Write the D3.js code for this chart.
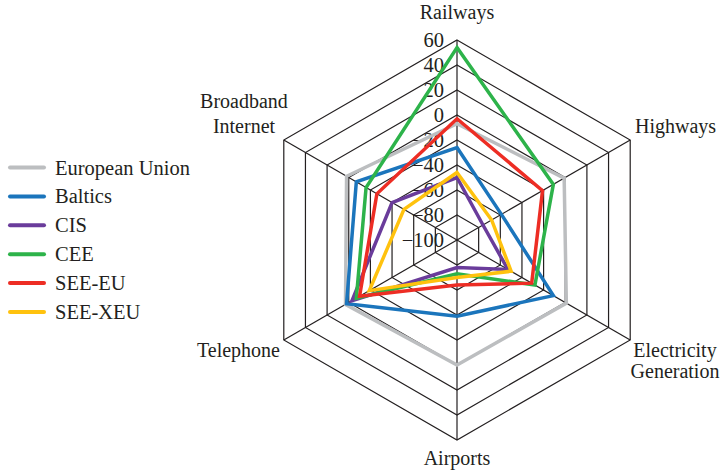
<!DOCTYPE html>
<html>
<head>
<meta charset="utf-8">
<script src="https://cdn.jsdelivr.net/npm/d3@7"></script>
<style>
  body { margin: 0; background: #fff; }
</style>
</head>
<body>
<div id="chart"></div>
<script>
// axes, clockwise from the top
var axes = ["Railways", "Highways", "Electricity Generation", "Airports", "Telephone", "Broadband Internet"];
var ticks = [-100, -80, -60, -40, -20, 0, 20, 40, 60];

var seriesNames = ["European Union", "Baltics", "CIS", "CEE", "SEE-EU", "SEE-XEU"];
var euValues      = [-7, -1, 1, 0, 3, 2];
var balticsValues = [-26, -59, -11, -39, 2, -7];
var cisValues     = [-50, -76, -53, -78, -3, -40];
var ceeValues     = [54, -11, -28, -73, -7, -16];
var seeEuValues   = [-3, -21, -31, -64, -10, -26];
var seeXeuValues  = [-46, -68, -50, -70, -19, -51];

var colors = ["#bcbec0", "#1b75bc", "#6a3c9b", "#2db34a", "#ed2d24", "#ffc20e"];

var series = [euValues, balticsValues, cisValues, ceeValues, seeEuValues, seeXeuValues];

var width = 722, height = 473;
var cx = 457, cy = 240, radius = 200;

var svg = d3.select("#chart").append("svg")
  .attr("width", width)
  .attr("height", height);

var r = d3.scaleLinear().domain([-100, 60]).range([0, radius]);

function pt(i, v) {
  var a = i * Math.PI / 3;
  return [cx + r(v) * Math.sin(a), cy - r(v) * Math.cos(a)];
}

function serifText(sel, size) {
  return sel.attr("style", "font-family: 'Times New Roman', 'Liberation Serif'; font-size: " + size + "px;")
    .attr("fill", "#231f20");
}

// grid rings
var grid = svg.append("g");
ticks.slice(1).forEach(function(t) {
  grid.append("polygon")
    .attr("points", axes.map(function(d, i) { return pt(i, t).join(","); }).join(" "))
    .attr("fill", "none")
    .attr("stroke", "#231f20")
    .attr("stroke-width", 1.2);
});
// spokes
axes.forEach(function(d, i) {
  var p = pt(i, 60);
  grid.append("line")
    .attr("x1", cx).attr("y1", cy)
    .attr("x2", p[0]).attr("y2", p[1])
    .attr("stroke", "#231f20")
    .attr("stroke-width", 1.2);
});

// tick labels along the top spoke
svg.append("g").selectAll("text")
  .data(ticks)
  .enter().append("text")
  .call(serifText, 20.5)
  .attr("x", cx - 13)
  .attr("y", function(d) { return cy - r(d) + 7; })
  .attr("text-anchor", "end")
  .text(function(d) { return d < 0 ? "\u2212" + Math.abs(d) : d; });

// series
var line = d3.line().curve(d3.curveLinearClosed);
series.forEach(function(vals, k) {
  svg.append("path")
    .attr("d", line(vals.map(function(v, i) { return pt(i, v); })))
    .attr("fill", "none")
    .attr("stroke", colors[k])
    .attr("stroke-width", 3.5)
    .attr("stroke-linejoin", "miter");
});

// axis labels
var labelPos = [
  {x: 457, y: 19, anchor: "middle", lines: ["Railways"]},
  {x: 635, y: 133, anchor: "start", lines: ["Highways"]},
  {x: 675, y: 357, anchor: "middle", lines: ["Electricity", "Generation"], lh: 20.5},
  {x: 457, y: 465, anchor: "middle", lines: ["Airports"]},
  {x: 280, y: 357, anchor: "end", lines: ["Telephone"]},
  {x: 244, y: 108, anchor: "middle", lines: ["Broadband", "Internet"], lh: 25}
];
labelPos.forEach(function(l) {
  l.lines.forEach(function(s, j) {
    svg.append("text")
      .call(serifText, 20)
      .attr("x", l.x)
      .attr("y", l.y + j * (l.lh || 0))
      .attr("text-anchor", l.anchor)
      .text(s);
  });
});

// legend
var legend = svg.append("g");
seriesNames.forEach(function(name, k) {
  var y = 167.5 + k * 28.9;
  legend.append("line")
    .attr("x1", 10).attr("x2", 44)
    .attr("y1", y).attr("y2", y)
    .attr("stroke", colors[k])
    .attr("stroke-width", 4)
    .attr("stroke-linecap", "round");
  legend.append("text")
    .call(serifText, 20.5)
    .attr("x", 55).attr("y", y + 7)
    .text(name);
});
</script>
</body>
</html>
